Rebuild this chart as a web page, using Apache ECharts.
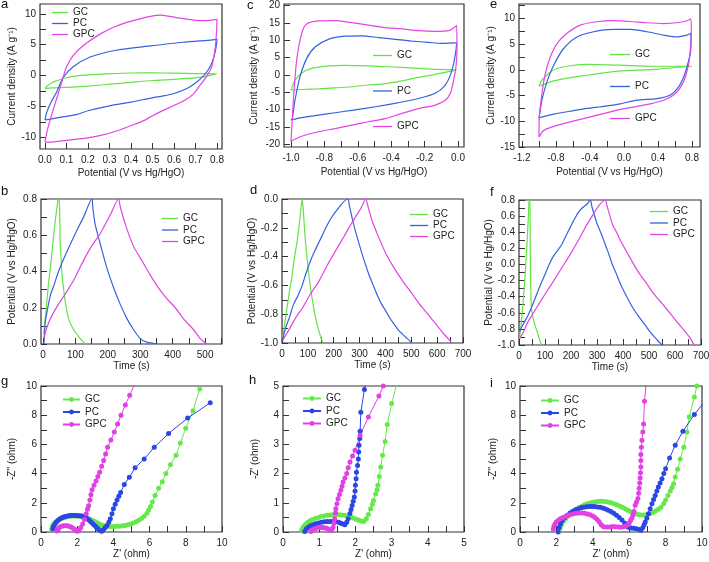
<!DOCTYPE html>
<html><head><meta charset="utf-8">
<script src="https://cdn.jsdelivr.net/npm/echarts@6/dist/echarts.min.js"></script>
<style>html,body{margin:0;padding:0;background:#fff}#c{width:709px;height:562px}</style>
</head><body><div id="c"></div><script>
// ---------- data: panel a (CV, 0..0.8 V) ----------
const aGC = [[0,-2.1],[0.01,-1.7],[0.03,-1.2],[0.05,-0.9],[0.08,-0.55],[0.1,-0.35],[0.15,-0.05],[0.2,0.1],[0.3,0.3],[0.4,0.42],[0.5,0.43],[0.6,0.4],[0.7,0.33],[0.8,0.3],
  [0.8,0.25],[0.72,-0.3],[0.6,-0.6],[0.5,-0.8],[0.4,-1.1],[0.3,-1.4],[0.2,-1.7],[0.1,-1.9],[0.03,-2.0],[0,-2.1]];
const aPC = [[0,-7.2],[0.01,-5.8],[0.03,-4.2],[0.054,-2.7],[0.085,-0.3],[0.13,1.4],[0.21,3.0],[0.33,4.1],[0.49,4.8],[0.64,5.4],[0.78,5.8],[0.8,5.9],
  [0.795,4.5],[0.785,3],[0.77,1.6],[0.75,0.5],[0.73,-0.3],[0.7,-1.2],[0.66,-2.1],[0.6,-2.9],[0.55,-3.3],[0.5,-3.6],[0.4,-4.3],[0.3,-4.9],[0.2,-5.7],[0.15,-6.3],[0.1,-6.6],[0.05,-6.9],[0.02,-7.1],[0,-7.2]];
const aGPC = [[0,-10.8],[0.01,-9],[0.03,-6.5],[0.05,-4.2],[0.07,-2],[0.085,-0.2],[0.1,1.4],[0.13,3.2],[0.18,4.9],[0.26,6.8],[0.33,8.0],[0.41,8.9],[0.49,9.6],[0.54,9.8],[0.61,9.4],[0.69,9.0],[0.75,8.9],[0.8,9.1],
  [0.797,6.8],[0.79,4.1],[0.775,1.4],[0.75,-0.2],[0.72,-1.6],[0.69,-3.0],[0.65,-4.0],[0.59,-5.0],[0.54,-5.8],[0.5,-6.5],[0.46,-7.3],[0.4,-8.1],[0.34,-8.9],[0.26,-9.7],[0.2,-10.1],[0.1,-10.5],[0.02,-10.8],[0,-10.8]];
// ---------- panel c (CV, -1..0 V) ----------
const cGC = [[-1,-4.4],[-0.99,-3],[-0.976,-1.5],[-0.936,0.6],[-0.876,1.9],[-0.776,2.65],[-0.676,2.8],[-0.536,2.65],[-0.436,2.4],[-0.336,2.2],[-0.236,1.9],[-0.136,1.6],[-0.006,1.5],
  [-0.136,0.2],[-0.236,-0.7],[-0.336,-1.7],[-0.436,-2.5],[-0.536,-2.9],[-0.636,-3.4],[-0.736,-3.7],[-0.836,-4.0],[-0.936,-4.2],[-1,-4.4]];
const cPC = [[-1,-13],[-0.992,-12.5],[-0.976,-7.3],[-0.946,-0.5],[-0.906,4.8],[-0.856,8.1],[-0.776,10.3],[-0.676,11.2],[-0.576,11.3],[-0.476,10.8],[-0.376,10.3],[-0.276,9.8],[-0.176,9.4],[-0.096,9.1],[-0.016,9.3],[-0.008,9.3],
  [-0.012,7.2],[-0.026,3.3],[-0.046,-0.05],[-0.076,-2.9],[-0.136,-5.3],[-0.236,-6.8],[-0.336,-7.8],[-0.436,-8.7],[-0.536,-9.5],[-0.636,-10.2],[-0.736,-10.9],[-0.836,-11.6],[-0.936,-12.3],[-1,-13]];
const cGPC = [[-1,-19.3],[-0.995,-15],[-0.986,-7.3],[-0.966,4.3],[-0.936,12],[-0.906,14.7],[-0.836,15.6],[-0.736,15.7],[-0.636,15.1],[-0.536,14.4],[-0.436,13.7],[-0.336,13.3],[-0.236,12.8],[-0.136,12.6],[-0.056,12.8],[-0.016,13.9],[-0.008,14.3],
  [-0.006,7.2],[-0.012,2.4],[-0.026,-1.5],[-0.046,-5.3],[-0.076,-7.3],[-0.136,-8.7],[-0.236,-9.7],[-0.336,-11.1],[-0.436,-12.6],[-0.536,-13.5],[-0.636,-14.5],[-0.736,-15.5],[-0.836,-16.4],[-0.936,-17.7],[-0.986,-18.8],[-1,-19.3]];
// ---------- panel e (CV, -1..0.8 V) ----------
const eGC = [[-1,-3.2],[-0.965,-2.0],[-0.886,-0.7],[-0.788,0.25],[-0.631,0.8],[-0.435,1.05],[-0.043,0.9],[0.349,0.7],[0.8,0.7],
  [0.8,0.6],[0.349,0.1],[-0.043,-0.2],[-0.239,-0.6],[-0.435,-1.05],[-0.631,-1.5],[-0.827,-2.15],[-1,-3.2]];
const ePC = [[-1,-9.5],[-0.965,-5.9],[-0.906,-2.3],[-0.827,0.9],[-0.71,4.15],[-0.553,6.4],[-0.357,7.4],[-0.122,7.85],[0.075,7.85],[0.271,7.4],[0.467,6.75],[0.624,6.4],[0.741,6.75],[0.788,7.1],
  [0.788,5.1],[0.78,3.2],[0.741,0.6],[0.702,-1.4],[0.643,-3.3],[0.545,-4.9],[0.388,-5.6],[0.153,-5.9],[-0.043,-6.6],[-0.239,-7.1],[-0.435,-7.5],[-0.631,-8.05],[-0.827,-8.6],[-0.984,-9.25],[-1,-9.5]];
const eGPC = [[-1,-13.05],[-0.996,-9.2],[-0.965,-4.6],[-0.925,-0.7],[-0.867,2.5],[-0.788,5.1],[-0.671,7.1],[-0.514,8.7],[-0.318,9.35],[-0.122,9.55],[0.075,9.4],[0.271,9.15],[0.467,9.0],[0.624,9.15],[0.741,9.55],[0.788,9.9],
  [0.792,7.1],[0.78,3.8],[0.761,1.2],[0.722,-1.4],[0.663,-3.45],[0.584,-4.9],[0.467,-5.9],[0.31,-6.6],[0.153,-7.1],[-0.043,-7.7],[-0.239,-8.5],[-0.435,-9.3],[-0.631,-10.1],[-0.827,-11],[-0.945,-11.8],[-1,-13.05]];
// ---------- panel b (GCD) ----------
const bGC = [[2,0.05],[7,0.14],[12,0.23],[17,0.33],[23,0.42],[28,0.51],[33,0.6],[38,0.68],[43,0.75],[47,0.8],[50,0.79],[52,0.7],[53,0.57],[56,0.47],[59,0.38],[64,0.3],[69,0.23],[79,0.14],[94,0.08],[115,0.03],[130,0.0]];
const bPC = [[3,0],[5,0.05],[7,0.12],[15,0.2],[23,0.27],[35,0.33],[48,0.4],[74,0.51],[100,0.61],[125,0.7],[151,0.8],[154,0.75],[161,0.66],[177,0.55],[197,0.42],[218,0.31],[238,0.22],[259,0.14],[279,0.08],[300,0.03],[320,0.01],[351,0.0]];
const bGPC = [[2,0.03],[10,0.08],[23,0.14],[48,0.22],[74,0.29],[100,0.37],[125,0.46],[150,0.54],[177,0.61],[207,0.71],[233,0.8],[238,0.76],[254,0.66],[279,0.54],[305,0.46],[331,0.38],[356,0.31],[382,0.25],[408,0.2],[433,0.14],[464,0.08],[485,0.03],[505,0.0]];
// ---------- panel d (GCD) ----------
const dGC = [[3,-0.965],[10,-0.87],[19,-0.76],[29,-0.64],[39,-0.53],[48,-0.41],[58,-0.3],[65,-0.2],[71,-0.11],[78,0],[82,-0.065],[86,-0.18],[91,-0.3],[97,-0.41],[104,-0.53],[113,-0.65],[123,-0.76],[133,-0.85],[143,-0.92],[158,-1.0]];
const dPC = [[3,-0.98],[13,-0.9],[29,-0.82],[45,-0.73],[62,-0.67],[78,-0.6],[94,-0.51],[110,-0.43],[127,-0.36],[143,-0.3],[159,-0.24],[175,-0.18],[191,-0.13],[207,-0.09],[233,-0.03],[255,0],[260,-0.04],[266,-0.09],[275,-0.16],[285,-0.23],[298,-0.31],[311,-0.39],[324,-0.46],[337,-0.53],[353,-0.6],[369,-0.67],[385,-0.73],[402,-0.78],[418,-0.83],[434,-0.87],[450,-0.91],[467,-0.94],[485,-0.97],[503,-1.0]];
const dGPC = [[3,-0.98],[20,-0.93],[45,-0.85],[62,-0.8],[78,-0.76],[110,-0.66],[143,-0.57],[175,-0.46],[207,-0.36],[240,-0.26],[272,-0.16],[305,-0.065],[324,0],[331,-0.04],[340,-0.1],[350,-0.16],[375,-0.27],[402,-0.38],[434,-0.48],[467,-0.57],[500,-0.65],[532,-0.73],[564,-0.8],[596,-0.87],[622,-0.93],[648,-0.98],[655,-1.0]];
// ---------- panel f (GCD) ----------
const fGC = [[2,-0.92],[8,-0.75],[15,-0.5],[22,-0.2],[28,0.1],[33,0.4],[37,0.65],[39,0.8],[42,0.8],[43,0.4],[44,0.0],[46,-0.4],[48,-0.55],[54,-0.66],[62,-0.76],[70,-0.84],[78,-0.92],[86,-1.0]];
const fPC = [[3,-0.83],[10,-0.78],[20,-0.72],[35,-0.63],[50,-0.52],[67,-0.38],[83,-0.25],[100,-0.125],[116,0.0],[132,0.1],[150,0.18],[165,0.25],[180,0.35],[197,0.46],[213,0.56],[229,0.65],[246,0.71],[262,0.75],[275,0.8],[278,0.76],[281,0.71],[291,0.6],[301,0.5],[314,0.4],[327,0.29],[343,0.15],[359,0.0],[375,-0.12],[391,-0.25],[408,-0.36],[424,-0.46],[440,-0.55],[456,-0.625],[473,-0.7],[489,-0.77],[505,-0.84],[521,-0.9],[535,-0.95],[550,-1.0]];
const fGPC = [[3,-0.92],[15,-0.85],[35,-0.71],[50,-0.63],[67,-0.54],[100,-0.37],[132,-0.21],[165,-0.04],[197,0.125],[230,0.31],[262,0.5],[285,0.62],[307,0.73],[333,0.8],[336,0.76],[340,0.71],[350,0.6],[359,0.5],[375,0.4],[391,0.29],[424,0.1],[456,-0.08],[489,-0.23],[521,-0.375],[554,-0.5],[586,-0.625],[612,-0.73],[638,-0.83],[655,-0.9],[670,-0.98],[675,-1.0]];
// ---------- panel g (EIS) ----------
const gGC = [[0.6,0.2],[0.62,0.35],[0.66,0.47],[0.72,0.58],[0.8,0.68],[0.9,0.77],[1.0,0.85],[1.1,0.91],[1.2,0.96],[1.3,1.0],[1.4,1.03],[1.5,1.06],[1.6,1.08],[1.7,1.09],[1.8,1.1],[1.9,1.1],[2.0,1.09],[2.1,1.08],[2.2,1.06],[2.3,1.03],[2.4,1.0],[2.5,0.96],[2.6,0.92],[2.7,0.87],[2.8,0.82],[2.9,0.76],[3.0,0.7],[3.1,0.63],[3.2,0.57],[3.3,0.5],[3.4,0.45],[3.5,0.42],[3.6,0.4],[3.75,0.38],[3.9,0.38],[4.05,0.38],[4.2,0.39],[4.35,0.4],[4.5,0.42],[4.65,0.45],[4.8,0.5],[4.95,0.55],[5.1,0.62],[5.25,0.7],[5.4,0.8],[5.55,0.92],[5.7,1.08],[5.85,1.28],[5.95,1.5],[6.05,1.75],[6.15,2.05],[6.3,2.5],[6.5,3.0],[6.7,3.45],[6.9,4.0],[7.15,4.6],[7.46,5.25],[7.7,6.1],[8.0,7.1],[8.4,8.3],[8.77,9.8]];
const gPC = [[0.65,0.23],[0.7,0.4],[0.77,0.55],[0.85,0.68],[0.95,0.8],[1.05,0.9],[1.15,0.97],[1.25,1.03],[1.35,1.07],[1.45,1.1],[1.55,1.12],[1.65,1.13],[1.75,1.13],[1.85,1.13],[1.95,1.13],[2.05,1.12],[2.15,1.11],[2.25,1.09],[2.35,1.05],[2.45,1.0],[2.55,0.92],[2.65,0.82],[2.75,0.71],[2.85,0.58],[2.95,0.46],[3.05,0.34],[3.15,0.22],[3.25,0.12],[3.35,0.05],[3.45,0.15],[3.55,0.3],[3.65,0.45],[3.75,0.68],[3.83,0.9],[3.92,1.25],[4.0,1.6],[4.1,1.9],[4.2,2.2],[4.3,2.45],[4.4,2.7],[4.6,3.25],[4.88,3.75],[5.2,4.4],[5.7,5.0],[6.26,5.8],[7.05,6.75],[8.1,7.8],[9.35,8.85]];
const gGPC = [[0.88,0.07],[0.92,0.18],[0.98,0.27],[1.05,0.34],[1.15,0.39],[1.25,0.42],[1.35,0.43],[1.45,0.42],[1.55,0.39],[1.65,0.34],[1.75,0.27],[1.85,0.18],[1.95,0.09],[2.02,0.05],[2.1,0.12],[2.2,0.3],[2.3,0.55],[2.4,0.85],[2.5,1.25],[2.57,1.55],[2.63,1.8],[2.7,2.2],[2.76,2.55],[2.82,2.9],[2.93,3.2],[3.04,3.5],[3.14,3.8],[3.24,4.1],[3.35,4.5],[3.46,4.9],[3.57,5.35],[3.68,5.8],[3.86,6.3],[4.05,6.85],[4.23,7.4],[4.42,8.0],[4.66,8.7],[4.9,9.36],[5.2,10.2]];
// ---------- panel h (EIS) ----------
const hGC = [[0.51,0.06],[0.55,0.15],[0.6,0.23],[0.65,0.29],[0.7,0.34],[0.76,0.39],[0.82,0.43],[0.9,0.47],[0.98,0.5],[1.06,0.53],[1.14,0.55],[1.22,0.57],[1.3,0.58],[1.38,0.59],[1.46,0.59],[1.54,0.59],[1.62,0.58],[1.7,0.57],[1.78,0.55],[1.86,0.52],[1.94,0.48],[2.02,0.44],[2.1,0.4],[2.18,0.37],[2.24,0.37],[2.3,0.45],[2.36,0.6],[2.42,0.8],[2.47,0.95],[2.5,1.08],[2.56,1.3],[2.6,1.45],[2.62,1.6],[2.66,1.9],[2.7,2.23],[2.75,2.63],[2.82,3.1],[2.88,3.68],[3.0,4.4],[3.14,5.05]];
const hPC = [[0.6,0.02],[0.64,0.1],[0.7,0.16],[0.76,0.21],[0.83,0.25],[0.9,0.28],[0.98,0.31],[1.06,0.33],[1.14,0.35],[1.22,0.36],[1.3,0.36],[1.38,0.36],[1.46,0.35],[1.54,0.33],[1.6,0.3],[1.66,0.27],[1.71,0.25],[1.76,0.33],[1.8,0.45],[1.85,0.63],[1.88,0.77],[1.91,0.91],[1.94,1.05],[1.97,1.2],[1.99,1.4],[2.0,1.6],[2.02,1.82],[2.03,2.05],[2.06,2.28],[2.08,2.5],[2.09,2.74],[2.1,2.97],[2.12,3.2],[2.13,3.45],[2.15,4.1],[2.25,4.88],[2.33,5.5]];
const hGPC = [[0.77,0.02],[0.8,0.07],[0.85,0.1],[0.9,0.12],[0.95,0.14],[1.0,0.15],[1.05,0.15],[1.1,0.15],[1.15,0.14],[1.2,0.13],[1.25,0.1],[1.3,0.07],[1.34,0.06],[1.38,0.15],[1.41,0.3],[1.43,0.45],[1.45,0.65],[1.46,0.8],[1.49,0.97],[1.52,1.14],[1.56,1.28],[1.6,1.43],[1.63,1.57],[1.66,1.71],[1.71,1.85],[1.76,2.0],[1.8,2.2],[1.85,2.4],[1.92,2.6],[1.99,2.8],[2.13,3.31],[2.36,3.94],[2.65,4.66],[2.77,5.0]];
// ---------- panel i (EIS) ----------
const iGC = [[2.17,0.1],[2.22,0.35],[2.3,0.55],[2.4,0.75],[2.52,0.93],[2.65,1.1],[2.8,1.27],[2.95,1.42],[3.1,1.55],[3.25,1.67],[3.4,1.77],[3.55,1.86],[3.7,1.93],[3.85,1.99],[4.0,2.04],[4.15,2.07],[4.3,2.09],[4.45,2.1],[4.6,2.09],[4.75,2.07],[4.9,2.03],[5.05,1.98],[5.2,1.92],[5.35,1.85],[5.5,1.77],[5.65,1.68],[5.8,1.58],[5.95,1.48],[6.1,1.38],[6.25,1.3],[6.4,1.23],[6.55,1.18],[6.7,1.16],[6.85,1.17],[7.0,1.2],[7.15,1.26],[7.3,1.34],[7.45,1.44],[7.6,1.55],[7.75,1.7],[7.9,1.95],[8.0,2.2],[8.13,2.5],[8.26,2.8],[8.35,3.05],[8.44,3.3],[8.53,3.77],[8.66,4.3],[8.8,5.0],[9.0,5.8],[9.17,6.85],[9.3,7.9],[9.58,9.25],[9.72,10]];
const iPC = [[2.1,0.0],[2.15,0.3],[2.22,0.55],[2.32,0.78],[2.45,0.98],[2.6,1.15],[2.75,1.3],[2.9,1.42],[3.05,1.52],[3.2,1.6],[3.35,1.66],[3.5,1.7],[3.65,1.73],[3.8,1.75],[3.95,1.75],[4.1,1.74],[4.25,1.72],[4.4,1.69],[4.55,1.64],[4.7,1.57],[4.85,1.49],[5.0,1.4],[5.15,1.28],[5.3,1.15],[5.45,1.0],[5.6,0.82],[5.75,0.62],[5.85,0.45],[5.95,0.32],[6.1,0.27],[6.25,0.25],[6.4,0.22],[6.55,0.17],[6.65,0.12],[6.75,0.3],[6.82,0.5],[6.88,0.68],[6.97,0.95],[7.06,1.25],[7.15,1.6],[7.25,1.94],[7.34,2.22],[7.43,2.5],[7.52,2.8],[7.6,3.08],[7.7,3.36],[7.8,3.65],[7.9,4.0],[8.0,4.34],[8.22,5.07],[8.53,5.94],[8.95,6.9],[9.58,8.04],[10.05,8.8]];
const iGPC = [[1.83,0.18],[1.86,0.4],[1.92,0.55],[2.0,0.68],[2.1,0.8],[2.22,0.9],[2.35,0.99],[2.5,1.07],[2.65,1.14],[2.8,1.2],[2.95,1.25],[3.1,1.28],[3.25,1.3],[3.4,1.3],[3.55,1.28],[3.7,1.24],[3.85,1.18],[4.0,1.1],[4.12,1.0],[4.24,0.86],[4.35,0.7],[4.45,0.52],[4.55,0.4],[4.65,0.35],[4.8,0.34],[4.95,0.35],[5.1,0.37],[5.25,0.36],[5.4,0.34],[5.55,0.33],[5.7,0.36],[5.82,0.42],[5.92,0.5],[6.0,0.62],[6.07,0.78],[6.14,0.95],[6.2,1.15],[6.26,1.4],[6.33,1.83],[6.4,2.05],[6.48,2.3],[6.52,2.65],[6.55,3.0],[6.58,3.35],[6.6,3.7],[6.62,4.05],[6.64,4.45],[6.64,4.9],[6.64,5.3],[6.67,5.8],[6.7,6.28],[6.75,6.85],[6.79,7.4],[6.84,8.95],[6.92,10.1]];

// ---------- ticks and labels ----------
const aXTicks = [0,0.1,0.2,0.3,0.4,0.5,0.6,0.7,0.8];
const aXLabels = [0,0.1,0.2,0.3,0.4,0.5,0.6,0.7,0.8];
const aYTicks = [-10,-7.5,-5,-2.5,0,2.5,5,7.5,10];
const aYLabels = [-10,-5,0,5,10];
const cXTicks = [-1,-0.9,-0.8,-0.7,-0.6,-0.5,-0.4,-0.3,-0.2,-0.1,0];
const cXLabels = [-1,-0.8,-0.6,-0.4,-0.2,0];
const cYTicks = [-20,-15,-10,-5,0,5,10,15,20];
const cYLabels = [-20,-15,-10,-5,0,5,10,15,20];
const eXTicks = [-1.2,-1.0,-0.8,-0.6,-0.4,-0.2,0,0.2,0.4,0.6,0.8];
const eXLabels = [-1.2,-0.8,-0.4,0,0.4,0.8];
const eYTicks = [-15,-12.5,-10,-7.5,-5,-2.5,0,2.5,5,7.5,10,12.5];
const eYLabels = [-15,-10,-5,0,5,10];
const bXTicks = [0,50,100,150,200,250,300,350,400,450,500,550];
const bXLabels = [0,100,200,300,400,500];
const bYTicks = [0,0.1,0.2,0.3,0.4,0.5,0.6,0.7,0.8];
const bYLabels = [0,0.2,0.4,0.6,0.8];
const dXTicks = [0,50,100,150,200,250,300,350,400,450,500,550,600,650,700];
const dXLabels = [0,100,200,300,400,500,600,700];
const dYTicks = [-1,-0.9,-0.8,-0.7,-0.6,-0.5,-0.4,-0.3,-0.2,-0.1,0];
const dYLabels = [-1,-0.8,-0.6,-0.4,-0.2,0];
const fXTicks = [0,50,100,150,200,250,300,350,400,450,500,550,600,650,700];
const fXLabels = [0,100,200,300,400,500,600,700];
const fYTicks = [-1,-0.9,-0.8,-0.7,-0.6,-0.5,-0.4,-0.3,-0.2,-0.1,0,0.1,0.2,0.3,0.4,0.5,0.6,0.7,0.8];
const fYLabels = [-1,-0.8,-0.6,-0.4,-0.2,0,0.2,0.4,0.6,0.8];
const gTicks = [0,1,2,3,4,5,6,7,8,9,10];
const gLabels = [0,2,4,6,8,10];
const hTicks = [0,0.5,1,1.5,2,2.5,3,3.5,4,4.5,5];
const hLabels = [0,1,2,3,4,5];
const iTicks = [0,1,2,3,4,5,6,7,8,9,10];
const iLabels = [0,2,4,6,8,10];
const seriesNames = ['GC','PC','GPC'];

// ---------- layout ----------
const FONT = 'Liberation Sans, Arial, sans-serif';
const COL = {GC:'#62e443', PC:'#3462e0', GPC:'#e244e6'};
const COLD = {GC:'#66e84c', PC:'#2a46e6', GPC:'#e040e4'};
const CV = 'Current density (A g\u207B\u00B9)';
const POT = 'Potential (V vs Hg/HgO)';
const panels = [
 {id:'a', g:{left:40,top:4,width:182,height:145}, x:[-0.023,0.823,aXTicks,aXLabels,1,POT,19], y:[-11.9,11.6,aYTicks,aYLabels,0,CV,22], d:[aGC,aPC,aGPC], lg:{left:52,top:7,gap:0,w:16}, sym:false},
 {id:'c', g:{left:284,top:4,width:180,height:143}, x:[-1.042,0.036,cXTicks,cXLabels,1,POT,20], y:[-20.8,20.5,cYTicks,cYLabels,0,CV,25], d:[cGC,cPC,cGPC], lg:{left:373,top:50,gap:24.5,w:19}, sym:false},
 {id:'e', g:{left:519,top:4,width:181,height:143}, x:[-1.235,0.894,eXTicks,eXLabels,1,POT,20], y:[-15,12.8,eYTicks,eYLabels,0,CV,22], d:[eGC,ePC,eGPC], lg:{left:610,top:49,gap:21,w:20}, sym:false},
 {id:'b', g:{left:41,top:199,width:181,height:145}, x:[-6,552,bXTicks,bXLabels,0,'Time (s)',16], y:[0,0.8,bYTicks,bYLabels,1,POT,24], d:[bGC,bPC,bGPC], lg:{left:162,top:213,gap:0.5,w:16}, sym:false},
 {id:'d', g:{left:282,top:199,width:181,height:144}, x:[0,700,dXTicks,dXLabels,0,'Time (s)',16], y:[-1,0,dYTicks,dYLabels,1,POT,23], d:[dGC,dPC,dGPC], lg:{left:410,top:209,gap:0,w:18}, sym:false},
 {id:'f', g:{left:519,top:200,width:182,height:145}, x:[0,700,fXTicks,fXLabels,0,'Time (s)',16], y:[-1,0.8,fYTicks,fYLabels,1,POT,23], d:[fGC,fPC,fGPC], lg:{left:650,top:206,gap:0.5,w:18}, sym:false},
 {id:'g', g:{left:41,top:386,width:181,height:146}, x:[0,10,gTicks,gLabels,0,"Z' (ohm)",16], y:[0,10,gTicks,gLabels,0,"-Z'' (ohm)",24], d:[gGC,gPC,gGPC], lg:{left:62,top:394,gap:1.5,w:17}, sym:true},
 {id:'h', g:{left:283,top:386,width:181,height:146}, x:[0,5,hTicks,hLabels,0,"Z' (ohm)",16], y:[0,5,hTicks,hLabels,0,"-Z' (ohm)",23], d:[hGC,hPC,hGPC], lg:{left:302,top:393,gap:1.5,w:18}, sym:true},
 {id:'i', g:{left:520,top:386,width:182,height:146}, x:[0,10,iTicks,iLabels,0,"Z' (ohm)",16], y:[0,10,iTicks,iLabels,0,"-Z'' (ohm)",22], d:[iGC,iPC,iGPC], lg:{left:540,top:395,gap:1.5,w:18}, sym:true}
];
const letters = [['a',1,-2],['c',247,-1],['e',490,-2],['b',1,185],['d',250,184],['f',490,186],['g',1,375],['h',249,374],['i',490,377]];

function axis(spec, gi, isX){
  const [min,max,ticks,labels,dec,name,gap] = spec;
  return {
    type:'value', gridIndex:gi, min, max, scale:true,
    name, nameLocation:'middle', nameGap:gap,
    nameTextStyle:{fontFamily:FONT,fontSize:10,color:'#222'},
    axisLine:{show:false, onZero:false},
    splitLine:{show:false},
    axisTick:{show:true, inside:true, length:6, customValues:ticks, lineStyle:{color:'#333',width:1}},
    axisLabel:{customValues:labels, margin:isX?6:4, fontFamily:FONT, fontSize:10, color:'#222',
      formatter:v=>Number(v).toFixed(dec)}
  };
}

const grid=[], xAxis=[], yAxis=[], series=[], legend=[];
panels.forEach((p,i)=>{
  grid.push(Object.assign({show:true, borderColor:'#333', borderWidth:1.2, backgroundColor:'transparent', containLabel:false, outerBoundsMode:'none'}, p.g));
  xAxis.push(axis(p.x,i,true));
  yAxis.push(axis(p.y,i,false));
  const names=[];
  p.d.forEach((data,k)=>{
    const nm = p.id+':'+seriesNames[k];
    names.push(nm);
    const c = p.sym?COLD[seriesNames[k]]:COL[seriesNames[k]];
    series.push({
      type:'line', name:nm, xAxisIndex:i, yAxisIndex:i, data,
      clip:true, smooth:p.sym?false:0.25,
      symbol:p.sym?'circle':'none', symbolSize:5, showSymbol:p.sym, showAllSymbol:true,
      itemStyle:{color:c}, lineStyle:{color:c,width:p.sym?1:1.2}, animation:false, silent:true
    });
  });
  const lg = {
    orient:'vertical', left:p.lg.left, top:p.lg.top, itemGap:p.lg.gap, itemWidth:p.lg.w,
    padding:0, selectedMode:false, data:names, formatter:n=>n.split(':')[1],
    textStyle:{fontFamily:FONT,fontSize:10,color:'#222',lineHeight:11}
  };
  if (p.sym) { lg.itemHeight = 6; } else { lg.icon = 'rect'; lg.itemHeight = 1.3; }
  legend.push(lg);
});

const chart = echarts.init(document.getElementById('c'), null, {renderer:'canvas'});
chart.setOption({
  animation:false, backgroundColor:'#fff', grid, xAxis, yAxis, series, legend,
  graphic: letters.map(l=>({type:'text', left:l[1], top:l[2], style:{text:l[0], font:'13px '+FONT, fill:'#111'}}))
});
</script></body></html>
